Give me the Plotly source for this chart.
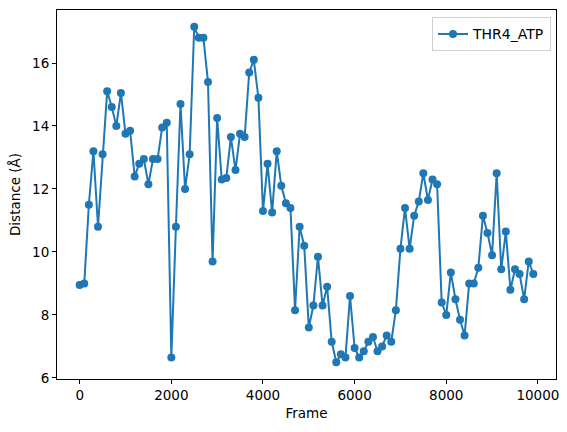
import plotly.graph_objects as go

frames = list(range(0, 10000, 100))
distance = [
    8.95, 9.0, 11.5, 13.2, 10.8, 13.1, 15.1, 14.6, 14.0, 15.05,
    13.75, 13.85, 12.4, 12.8, 12.95, 12.15, 12.95, 12.95, 13.95, 14.1,
    6.65, 10.8, 14.7, 12.0, 13.1, 17.15, 16.8, 16.8, 15.4, 9.7,
    14.25, 12.3, 12.35, 13.65, 12.6, 13.75, 13.65, 15.7, 16.1, 14.9,
    11.3, 12.8, 11.25, 13.2, 12.1, 11.55, 11.4, 8.15, 10.8, 10.2,
    7.6, 8.3, 9.85, 8.3, 8.9, 7.15, 6.5, 6.75, 6.65, 8.6,
    6.95, 6.65, 6.85, 7.15, 7.3, 6.85, 7.0, 7.35, 7.15, 8.15,
    10.1, 11.4, 10.1, 11.15, 11.6, 12.5, 11.65, 12.3, 12.15, 8.4,
    8.0, 9.35, 8.5, 7.85, 7.35, 9.0, 9.0, 9.5, 11.15, 10.6,
    9.9, 12.5, 9.45, 10.65, 8.8, 9.45, 9.3, 8.5, 9.7, 9.3,
]
x_ticks = [0, 2000, 4000, 6000, 8000, 10000]
x_tick_labels = ["0", "2000", "4000", "6000", "8000", "10000"]
y_ticks = [6, 8, 10, 12, 14, 16]

color = "#1f77b4"
fig = go.Figure()
fig.add_trace(go.Scatter(
    x=frames, y=distance, mode="lines+markers", name="THR4_ATP",
    line=dict(color=color, width=2),
    marker=dict(color=color, size=8),
    showlegend=True,
))

font = dict(family="DejaVu Sans", size=13.5, color="black")
axis_common = dict(
    showline=True, linecolor="black", linewidth=1, mirror=True,
    ticks="outside", ticklen=4, tickwidth=1, tickcolor="black",
    showgrid=False, zeroline=False, tickfont=font,
)
xmin, xmax = min(frames), max(frames)
ymin, ymax = min(distance), max(distance)
xpad = 0.05 * (xmax - xmin)
ypad = 0.05 * (ymax - ymin)
fig.update_layout(
    width=567, height=432,
    margin=dict(l=57, r=8, t=10, b=53),
    paper_bgcolor="white", plot_bgcolor="white",
    font=font,
    xaxis=dict(**axis_common, range=[xmin - xpad, xmax + xpad], tickvals=x_ticks,
               ticktext=x_tick_labels,
               title=dict(text="Frame", font=font, standoff=6)),
    yaxis=dict(**axis_common, range=[ymin - ypad, ymax + ypad], tickvals=y_ticks,
               title=dict(text="Distance (Å)", font=font, standoff=8)),
    legend=dict(x=0.99, y=0.98, xanchor="right", yanchor="top",
                bordercolor="#d0d0d0", borderwidth=1, bgcolor="white",
                font=dict(family="DejaVu Sans", size=14, color="black")),
)
fig.write_html("out.html")
